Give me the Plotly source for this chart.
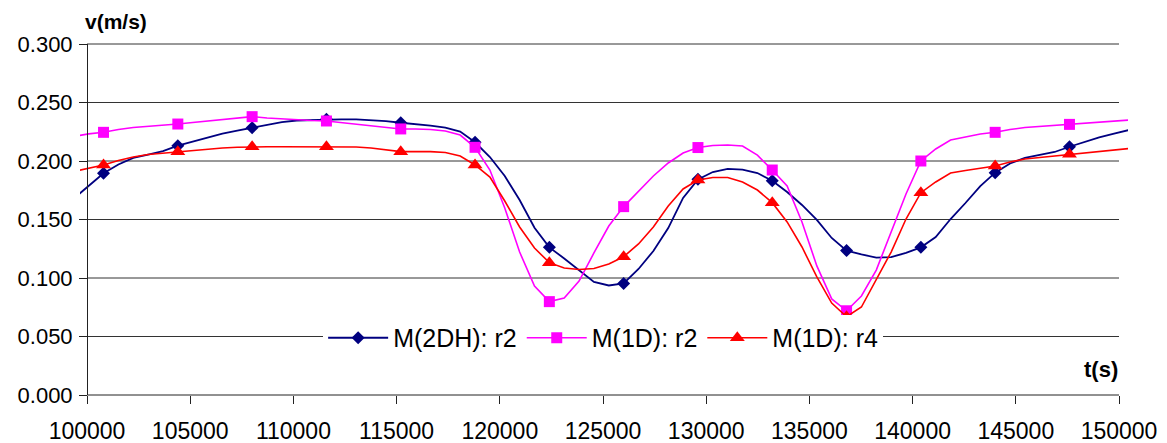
import plotly.graph_objects as go

# sampling times of the plotted curves (s): every 720 s
t_line = list(range(99360, 150481, 720))

v_2dh_r2 = [0.168, 0.179, 0.1895, 0.197, 0.2026, 0.2055, 0.2085, 0.2131,
            0.2167, 0.2205, 0.2235, 0.226, 0.2285, 0.2312, 0.2333, 0.2346,
            0.235, 0.2356, 0.2356, 0.2356, 0.235, 0.234, 0.2327, 0.2316,
            0.2303, 0.2286, 0.2252, 0.216, 0.2034, 0.1872, 0.1667, 0.143,
            0.1262, 0.1167, 0.1068, 0.0966, 0.0936, 0.0954, 0.1077, 0.1231,
            0.1427, 0.1684, 0.1843, 0.1906, 0.1932, 0.1927, 0.1897, 0.1832,
            0.1735, 0.1624, 0.1496, 0.1342, 0.1234, 0.1201, 0.1175, 0.1179,
            0.1214, 0.1262, 0.135, 0.1504, 0.1641, 0.1786, 0.19, 0.1979,
            0.2026, 0.2051, 0.2077, 0.2122, 0.2162, 0.2201, 0.2235, 0.2265]

v_1d_r2 = [0.221, 0.2232, 0.2245, 0.2269, 0.2286, 0.2295, 0.2303, 0.2316,
           0.2329, 0.2342, 0.2355, 0.2368, 0.2379, 0.2368, 0.2359, 0.2355,
           0.2346, 0.2342, 0.2329, 0.2316, 0.2299, 0.2286, 0.2274, 0.2274,
           0.2269, 0.2256, 0.2222, 0.2117, 0.1923, 0.1598, 0.1222, 0.0932,
           0.0798, 0.0829, 0.0974, 0.1214, 0.1444, 0.161, 0.1744, 0.1872,
           0.1983, 0.2068, 0.2115, 0.2132, 0.2137, 0.2128, 0.205, 0.1923,
           0.1786, 0.1479, 0.1103, 0.0821, 0.072, 0.0846, 0.1068, 0.1385,
           0.1718, 0.2, 0.2103, 0.2179, 0.2205, 0.2231, 0.2245, 0.2269,
           0.2286, 0.2295, 0.2303, 0.2313, 0.2325, 0.2333, 0.2342, 0.235]

v_1d_r4 = [0.191, 0.1935, 0.1966, 0.2004, 0.2034, 0.2056, 0.2068, 0.208,
           0.209, 0.2103, 0.2111, 0.2117, 0.2122, 0.2122, 0.2122, 0.2122,
           0.2122, 0.2122, 0.2122, 0.212, 0.2111, 0.2094, 0.208, 0.208,
           0.208, 0.2073, 0.2043, 0.1966, 0.1863, 0.1658, 0.1436, 0.1256,
           0.1131, 0.1085, 0.1073, 0.1081, 0.112, 0.1182, 0.1291, 0.1436,
           0.1615, 0.1761, 0.1838, 0.1859, 0.1859, 0.182, 0.1752, 0.1644,
           0.1479, 0.1265, 0.1009, 0.0786, 0.0669, 0.0752, 0.0983, 0.1222,
           0.1504, 0.1729, 0.1821, 0.1897, 0.1919, 0.1936, 0.1957, 0.1991,
           0.2017, 0.203, 0.2043, 0.2057, 0.2068, 0.2081, 0.2094, 0.2107]

series_names = ["M(2DH): r2", "M(1D): r2", "M(1D): r4"]
series_values = [v_2dh_r2, v_1d_r2, v_1d_r4]
series_colors = ["#000080", "#FF00FF", "#FF0000"]
series_symbols = ["diamond", "square", "triangle-up"]
series_msizes = [10, 11, 13]
series_lwidths = [1.8, 1.6, 1.6]

y_ticks = [0.0, 0.05, 0.10, 0.15, 0.20, 0.25, 0.30]
x_ticks = [100000, 105000, 110000, 115000, 120000, 125000, 130000, 135000,
           140000, 145000, 150000]

FONT = "Liberation Sans, Arial, sans-serif"
X0, X1 = 99660, 150436
Y0, Y1 = 0.0, 0.30

fig = go.Figure()
for name, vals, col, sym, ms, lw in zip(series_names, series_values, series_colors,
                                        series_symbols, series_msizes, series_lwidths):
    fig.add_trace(go.Scatter(x=t_line, y=vals, mode="lines", line=dict(color=col, width=lw),
                             showlegend=False, hoverinfo="skip"))
    fig.add_trace(go.Scatter(x=t_line[2::5], y=vals[2::5], mode="markers",
                             marker=dict(symbol=sym, size=ms, color=col, line=dict(width=0)),
                             showlegend=False, hoverinfo="skip", cliponaxis=False))
for name, col, sym, ms, lw in zip(series_names, series_colors, series_symbols,
                                  series_msizes, series_lwidths):
    fig.add_trace(go.Scatter(x=[None], y=[None], mode="lines+markers", name=name,
                             line=dict(color=col, width=lw),
                             marker=dict(symbol=sym, size=ms, color=col)))

shapes = []
for yv in y_ticks[1:]:
    shapes.append(dict(type="line", xref="x", yref="paper", x0=x_ticks[0], x1=x_ticks[-1],
                       y0=(yv - Y0) / (Y1 - Y0), y1=(yv - Y0) / (Y1 - Y0),
                       line=dict(color="#333333", width=1), layer="below"))
shapes.append(dict(type="line", xref="x", yref="paper", x0=x_ticks[0], x1=x_ticks[-1],
                   y0=0, y1=0, line=dict(color="#222", width=1), layer="below"))
fig.update_layout(shapes=shapes)

fig.update_layout(
    width=1167, height=443,
    margin=dict(l=80, r=39, t=44, b=48, autoexpand=False),
    paper_bgcolor="white", plot_bgcolor="white",
    hovermode=False,
    font=dict(family=FONT, color="black"),
    xaxis=dict(range=[X0, X1], showgrid=False, zeroline=False, showline=False,
               automargin=False, ticklabelstandoff=7,
               tickvals=x_ticks, ticktext=[str(v) for v in x_ticks],
               ticks="outside", ticklen=8, tickcolor="#222", tickwidth=1,
               tickfont=dict(size=23, family=FONT, color="black")),
    yaxis=dict(range=[Y0, Y1], showgrid=False, zeroline=False, automargin=False,
               anchor="free", position=(x_ticks[0] - X0) / (X1 - X0),
               showline=True, linecolor="#222", linewidth=1, ticklabelstandoff=2,
               tickvals=y_ticks, ticktext=[f"{v:.3f}" for v in y_ticks],
               ticks="outside", ticklen=8, tickcolor="#222", tickwidth=1,
               tickfont=dict(size=22, family=FONT, color="black")),
    legend=dict(orientation="h", x=0.232, xanchor="left", y=0.1624, yanchor="middle",
                bgcolor="white", borderwidth=0, itemwidth=60,
                font=dict(size=25, family=FONT, color="black")),
    annotations=[
        dict(text="<b>v(m/s)</b>", xref="paper", yref="paper", x=0.003, y=1.0655,
             xanchor="left", yanchor="middle", showarrow=False,
             font=dict(size=21, family=FONT, color="black")),
        dict(text="<b>t(s)</b>", xref="paper", yref="paper", x=0.9924, y=0.074,
             xanchor="right", yanchor="middle", showarrow=False,
             font=dict(size=22, family=FONT, color="black")),
    ],
)

fig.write_html("out.html", config={"displayModeBar": False, "staticPlot": True},
               post_script="document.body.style.margin='0';"
                           "document.body.style.overflow='hidden';")
